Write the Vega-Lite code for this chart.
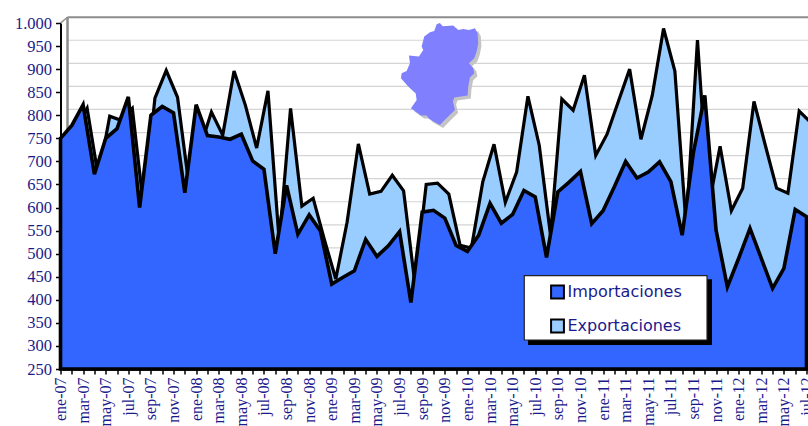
{"$schema":"https://vega.github.io/schema/vega-lite/v6.json","width":746,"height":346,"autosize":"none","padding":{"left":60.5,"top":23,"right":1.5,"bottom":57},"background":"white","title":{"text":"Millones euros","anchor":"start","frame":"group","dx":-60,"offset":19,"font":"Liberation Serif","fontStyle":"italic","fontSize":15,"fontWeight":"normal","color":"#1a1a8c"},"config":{"view":{"stroke":null},"axis":{"labelOverlap":false,"title":null,"grid":false,"ticks":true,"tickColor":"black","tickOpacity":1,"tickSize":5,"tickWidth":1.5,"domain":true,"domainColor":"black","domainWidth":2,"labelColor":"#1a1a8c","labelFont":"Liberation Serif","labelBound":false,"labelFlush":false}},"datasets":{"d":[{"mes":"ene-07","i":0,"imp":750,"exp":745},{"mes":"feb-07","i":1,"imp":778,"exp":772},{"mes":"mar-07","i":2,"imp":823,"exp":815},{"mes":"abr-07","i":3,"imp":672,"exp":665},{"mes":"may-07","i":4,"imp":750,"exp":798},{"mes":"jun-07","i":5,"imp":771,"exp":789},{"mes":"jul-07","i":6,"imp":840,"exp":815},{"mes":"ago-07","i":7,"imp":600,"exp":600},{"mes":"sep-07","i":8,"imp":800,"exp":837},{"mes":"oct-07","i":9,"imp":819,"exp":897},{"mes":"nov-07","i":10,"imp":805,"exp":839},{"mes":"dic-07","i":11,"imp":632,"exp":650},{"mes":"ene-08","i":12,"imp":823,"exp":730},{"mes":"feb-08","i":13,"imp":756,"exp":807},{"mes":"mar-08","i":14,"imp":753,"exp":757},{"mes":"abr-08","i":15,"imp":748,"exp":896},{"mes":"may-08","i":16,"imp":759,"exp":822},{"mes":"jun-08","i":17,"imp":701,"exp":729},{"mes":"jul-08","i":18,"imp":683,"exp":853},{"mes":"ago-08","i":19,"imp":500,"exp":525},{"mes":"sep-08","i":20,"imp":648,"exp":815},{"mes":"oct-08","i":21,"imp":542,"exp":603},{"mes":"nov-08","i":22,"imp":584,"exp":620},{"mes":"dic-08","i":23,"imp":549,"exp":530},{"mes":"ene-09","i":24,"imp":434,"exp":445},{"mes":"feb-09","i":25,"imp":449,"exp":568},{"mes":"mar-09","i":26,"imp":463,"exp":738},{"mes":"abr-09","i":27,"imp":531,"exp":629},{"mes":"may-09","i":28,"imp":494,"exp":635},{"mes":"jun-09","i":29,"imp":517,"exp":670},{"mes":"jul-09","i":30,"imp":548,"exp":636},{"mes":"ago-09","i":31,"imp":394,"exp":435},{"mes":"sep-09","i":32,"imp":590,"exp":650},{"mes":"oct-09","i":33,"imp":594,"exp":653},{"mes":"nov-09","i":34,"imp":577,"exp":629},{"mes":"dic-09","i":35,"imp":518,"exp":518},{"mes":"ene-10","i":36,"imp":505,"exp":512},{"mes":"feb-10","i":37,"imp":540,"exp":655},{"mes":"mar-10","i":38,"imp":609,"exp":737},{"mes":"abr-10","i":39,"imp":566,"exp":611},{"mes":"may-10","i":40,"imp":585,"exp":677},{"mes":"jun-10","i":41,"imp":637,"exp":841},{"mes":"jul-10","i":42,"imp":623,"exp":735},{"mes":"ago-10","i":43,"imp":492,"exp":540},{"mes":"sep-10","i":44,"imp":634,"exp":835},{"mes":"oct-10","i":45,"imp":655,"exp":811},{"mes":"nov-10","i":46,"imp":678,"exp":887},{"mes":"dic-10","i":47,"imp":565,"exp":713},{"mes":"ene-11","i":48,"imp":593,"exp":759},{"mes":"feb-11","i":49,"imp":645,"exp":830},{"mes":"mar-11","i":50,"imp":700,"exp":900},{"mes":"abr-11","i":51,"imp":664,"exp":748},{"mes":"may-11","i":52,"imp":677,"exp":843},{"mes":"jun-11","i":53,"imp":699,"exp":988},{"mes":"jul-11","i":54,"imp":656,"exp":896},{"mes":"ago-11","i":55,"imp":540,"exp":560},{"mes":"sep-11","i":56,"imp":720,"exp":963},{"mes":"oct-11","i":57,"imp":843,"exp":604},{"mes":"nov-11","i":58,"imp":551,"exp":733},{"mes":"dic-11","i":59,"imp":428,"exp":593},{"mes":"ene-12","i":60,"imp":490,"exp":642},{"mes":"feb-12","i":61,"imp":555,"exp":830},{"mes":"mar-12","i":62,"imp":490,"exp":735},{"mes":"abr-12","i":63,"imp":425,"exp":642},{"mes":"may-12","i":64,"imp":468,"exp":631},{"mes":"jun-12","i":65,"imp":596,"exp":809},{"mes":"jul-12","i":66,"imp":580,"exp":785}],"grid":[{"g":300},{"g":350},{"g":400},{"g":450},{"g":500},{"g":550},{"g":600},{"g":650},{"g":700},{"g":750},{"g":800},{"g":850},{"g":900},{"g":950}],"wall":[{"x":0,"y":1000},{"x":0.62,"y":1012.5}]},"data":{"name":"d"},"layer":[{"data":{"name":"grid"},"mark":{"type":"rule","color":"#d4d4d4","strokeWidth":1.2,"yOffset":-5.8},"encoding":{"y":{"field":"g","type":"quantitative","scale":{"domain":[250,1000],"nice":false,"zero":false},"axis":{"values":[250,300,350,400,450,500,550,600,650,700,750,800,850,900,950,1000],"tickCount":1000,"labelFontSize":16.5,"labelPadding":4,"labelExpr":"replace(format(datum.value,','),',','.')"}},"x":{"datum":0.62,"type":"quantitative","scale":{"domain":[0,66],"nice":false,"zero":false},"axis":{"values":[0,1,2,3,4,5,6,7,8,9,10,11,12,13,14,15,16,17,18,19,20,21,22,23,24,25,26,27,28,29,30,31,32,33,34,35,36,37,38,39,40,41,42,43,44,45,46,47,48,49,50,51,52,53,54,55,56,57,58,59,60,61,62,63,64,65,66],"tickCount":1000,"labelAngle":-90,"labelAlign":"right","labelBaseline":"middle","labelFontSize":16,"labelPadding":3,"labelExpr":"datum.value%2==0?['ene','feb','mar','abr','may','jun','jul','ago','sep','oct','nov','dic'][datum.value%12]+'-'+format(7+floor(datum.value/12),'02'):''"}},"x2":{"datum":66.2}}},{"data":{"values":[{}]},"mark":{"type":"rule","color":"#8c8c8c","strokeWidth":2,"clip":false},"encoding":{"y":{"datum":1012.5,"type":"quantitative"},"x":{"datum":0.62,"type":"quantitative"},"x2":{"datum":66.2}}},{"data":{"values":[{}]},"mark":{"type":"rule","color":"#8c8c8c","strokeWidth":2.5},"encoding":{"x":{"datum":0.62,"type":"quantitative"},"y":{"datum":1012.5,"type":"quantitative"},"y2":{"datum":262}}},{"data":{"name":"wall"},"mark":{"type":"line","color":"#8c8c8c","strokeWidth":1.5},"encoding":{"x":{"field":"x","type":"quantitative"},"y":{"field":"y","type":"quantitative"}}},{"mark":{"type":"area","stroke":"black","strokeWidth":3.2,"strokeJoin":"miter","xOffset":4},"encoding":{"x":{"field":"i","type":"quantitative"},"y":{"field":"exp","type":"quantitative"},"y2":{"datum":250},"fill":{"datum":"Exportaciones"}}},{"mark":{"type":"area","stroke":"black","strokeWidth":3.6,"strokeJoin":"miter"},"encoding":{"x":{"field":"i","type":"quantitative"},"y":{"field":"imp","type":"quantitative"},"y2":{"datum":250},"fill":{"datum":"Importaciones","scale":{"domain":["Importaciones","Exportaciones"],"range":["#3366ff","#99ccff"]},"legend":{"title":null,"orient":"none","legendX":489,"legendY":261,"symbolType":"square","symbolSize":165,"symbolStrokeColor":"black","symbolStrokeWidth":2,"symbolOpacity":1,"labelFont":"DejaVu Sans","labelFontSize":16,"labelColor":"#1a1a8c","rowPadding":12,"labelOffset":2,"padding":0}}}},{"data":{"values":[{}]},"mark":{"type":"rect","color":"black"},"encoding":{"x":{"datum":41.36,"type":"quantitative"},"x2":{"datum":57.64},"y":{"datum":444.5,"type":"quantitative"},"y2":{"datum":302}}},{"data":{"values":[{}]},"mark":{"type":"rect","fill":"white","stroke":"#222222","strokeWidth":1.2},"encoding":{"x":{"datum":41.03,"type":"quantitative"},"x2":{"datum":57.2},"y":{"datum":452.5,"type":"quantitative"},"y2":{"datum":312.9}}},{"data":{"values":[{}]},"mark":{"type":"point","filled":true,"color":"#c4c4c4","opacity":1,"size":4,"shape":"M-3.3,-49L0,-50.3L2.7,-47L13.3,-47.7L18.3,-43.3L23.3,-44.3L29,-43.3L35,-45L37.7,-40L38.3,-30L36.7,-21.7L34.3,-15L29,-10L33.3,-5L34.3,0L30,4.3L28.3,13.3L27.7,22.3L14.3,24.3L13,28.3L15,36.7L8.3,43.3L3.3,48.3L0,51.7L-5,49L-10.7,45.7L-13.3,42.3L-19,42.3L-29,35L-23.3,26.7L-24.3,20L-31.7,13.3L-39,5L-38.3,0L-33.3,-2.3L-30,-10L-31,-17.7L-21,-16.7L-16.7,-23.3L-18.3,-26.7L-15.7,-36.7L-10,-41L-5.7,-42.3Z"},"encoding":{"x":{"datum":33.85,"type":"quantitative"},"y":{"datum":884.6,"type":"quantitative"}}},{"data":{"values":[{}]},"mark":{"type":"point","filled":true,"color":"#8080ff","opacity":1,"size":4,"shape":"M-3.3,-49L0,-50.3L2.7,-47L13.3,-47.7L18.3,-43.3L23.3,-44.3L29,-43.3L35,-45L37.7,-40L38.3,-30L36.7,-21.7L34.3,-15L29,-10L33.3,-5L34.3,0L30,4.3L28.3,13.3L27.7,22.3L14.3,24.3L13,28.3L15,36.7L8.3,43.3L3.3,48.3L0,51.7L-5,49L-10.7,45.7L-13.3,42.3L-19,42.3L-29,35L-23.3,26.7L-24.3,20L-31.7,13.3L-39,5L-38.3,0L-33.3,-2.3L-30,-10L-31,-17.7L-21,-16.7L-16.7,-23.3L-18.3,-26.7L-15.7,-36.7L-10,-41L-5.7,-42.3Z"},"encoding":{"x":{"datum":33.57,"type":"quantitative"},"y":{"datum":891,"type":"quantitative"}}}]}
